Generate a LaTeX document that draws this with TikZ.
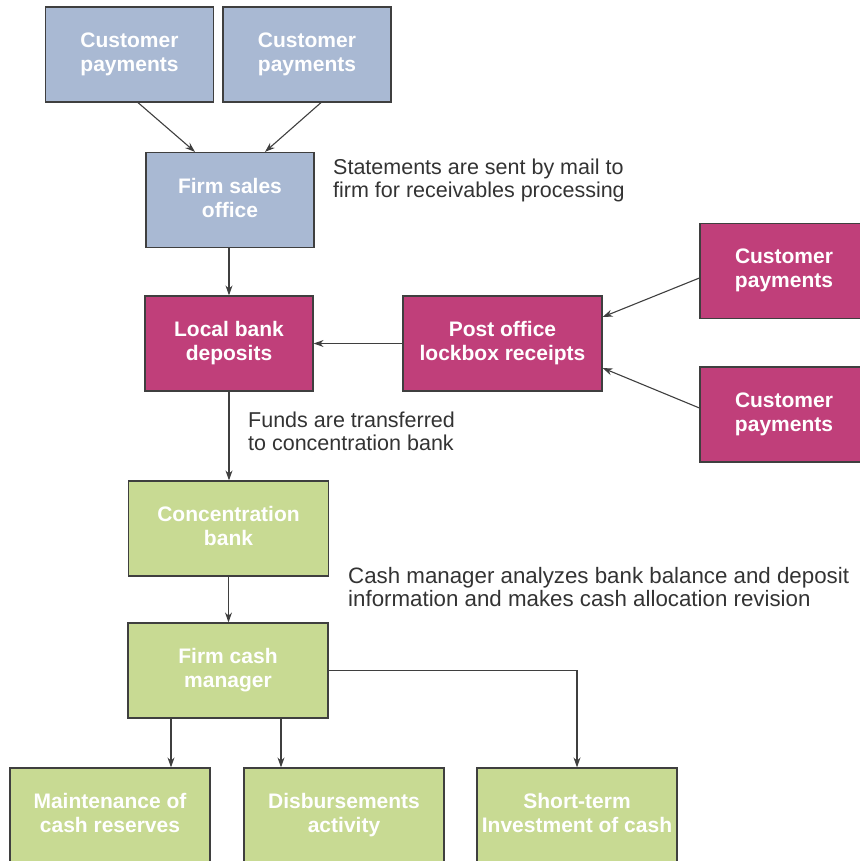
\documentclass[tikz,border=0pt]{standalone}
\usepackage{fontspec}
\setmainfont{Liberation Sans}
\usetikzlibrary{arrows.meta,calc}
\definecolor{cIn}{HTML}{A9B9D3}
\definecolor{cBank}{HTML}{C03F7A}
\definecolor{cCash}{HTML}{C8DA93}
\definecolor{cEdge}{HTML}{3F3F3F}
\definecolor{cNote}{HTML}{333333}
\tikzset{
  box/.style={draw=cEdge, line width=1.2pt, align=center, text=white,
    font=\fontsize{21}{24}\selectfont\bfseries, minimum height=95pt, inner sep=2pt,
    text depth=5pt},
  inbox/.style={box, fill=cIn, minimum width=168pt},
  bankbox/.style={box, fill=cBank, minimum width=168pt},
  cashbox/.style={box, fill=cCash, minimum width=200pt},
  note/.style={align=left, anchor=north west, inner sep=0pt, text=cNote,
    font=\fontsize{21.5}{23}\selectfont},
  flow/.style={-{Stealth[length=10pt,width=7pt]}, line width=1.1pt, draw=cEdge},
}

\begin{document}
\begin{tikzpicture}[x=1pt, y=-1pt]
    \useasboundingbox (0,0) rectangle (859,861);
    % --- mailed payments ---
    \node[inbox] (cpA) at (129.5,54.5) {Customer\\payments};
    \node[inbox] (cpB) at (307,54.5)   {Customer\\payments};
    \node[inbox] (sales) at (230,200)  {Firm sales\\office};
    \node[note] (mailnote) at (333,159)
      {Statements are sent by mail to\\firm for receivables processing};
    % --- banks and lockbox ---
    \node[bankbox] (local) at (229,343.5) {Local bank\\deposits};
    \node[bankbox, minimum width=199pt] (lockbox) at (502.5,343.5)
      {Post office\\lockbox receipts};
    \node[bankbox] (cpC) at (784,271)   {Customer\\payments};
    \node[bankbox] (cpD) at (784,414.5) {Customer\\payments};
    \node[note] (fundsnote) at (248,412)
      {Funds are transferred\\to concentration bank};
    % --- cash management ---
    \node[cashbox] (conc) at (228.5,528.5) {Concentration\\bank};
    \node[note, font=\fontsize{22.3}{23}\selectfont] (cashnote) at (348,567)
      {Cash manager analyzes bank balance and deposit\\information and makes cash allocation revision};
    \node[cashbox] (mgr) at (228,670.5) {Firm cash\\manager};
    \node[cashbox] (maint) at (110,815.5)  {Maintenance of\\cash reserves};
    \node[cashbox] (disb) at (344,815.5)   {Disbursements\\activity};
    \node[cashbox] (invest) at (577,815.5) {Short-term\\Investment of cash};
    % --- flows ---
    \draw[flow] ([xshift=8.5pt]cpA.south) -- ([xshift=-35pt]sales.north);
    \draw[flow] ([xshift=14pt]cpB.south) -- ([xshift=35pt]sales.north);
    \draw[flow] (sales.south -| local.north) -- (local.north);
    \draw[flow] ([yshift=-7pt]cpC.west) -- ([yshift=26.5pt]lockbox.east);
    \draw[flow] ([yshift=6.5pt]cpD.west) -- ([yshift=-24.5pt]lockbox.east);
    \draw[flow] (lockbox.west) -- (local.east);
    \draw[flow] (local.south) -- (local.south |- conc.north);
    \draw[flow] (conc.south) -- (conc.south |- mgr.north);
    \draw[flow] ([xshift=-57pt]mgr.south) -- ([xshift=-57pt]mgr.south |- maint.north);
    \draw[flow] ([xshift=53pt]mgr.south) -- ([xshift=53pt]mgr.south |- disb.north);
    \draw[flow] (mgr.east) -| (invest.north);
\end{tikzpicture}
\end{document}
